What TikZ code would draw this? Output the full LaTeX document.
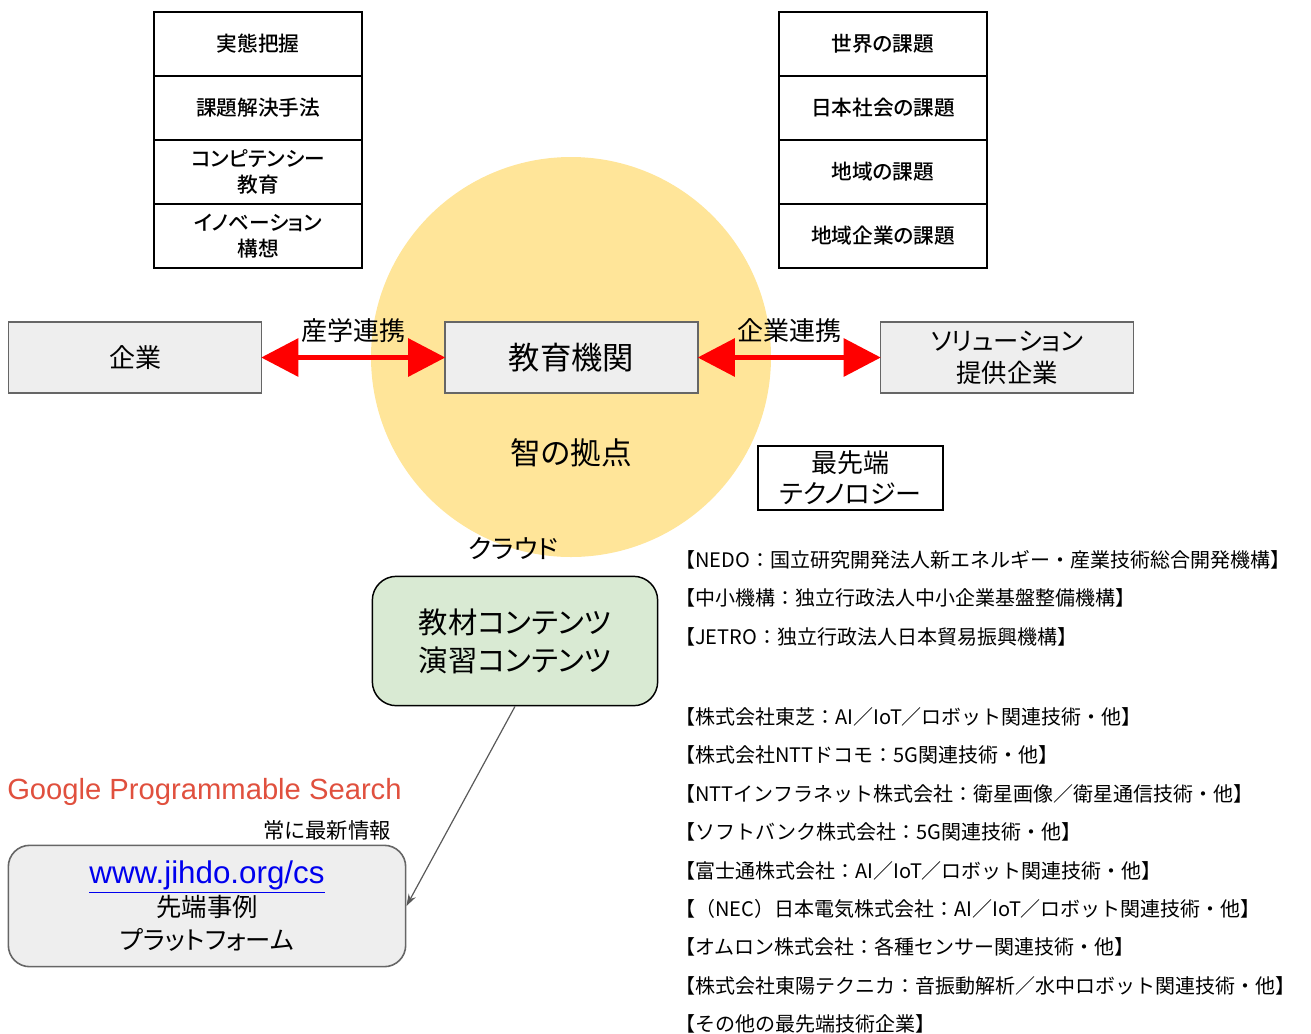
\documentclass[tikz,border=0pt]{standalone}
\usepackage{fontspec}
\setmainfont{Noto Sans CJK JP}[RawFeature=+palt]
\newfontfamily\jpfull{Noto Sans CJK JP}
\newfontfamily\jpmedium{Noto Sans CJK JP Medium}[RawFeature=+palt]
\newfontfamily\arialfont{Liberation Sans}
\usetikzlibrary{arrows.meta}
\definecolor{circleyellow}{HTML}{FFE599}
\definecolor{boxgray}{HTML}{EEEEEE}
\definecolor{boxgreen}{HTML}{D9EAD3}
\definecolor{googlered}{HTML}{E0503E}
\definecolor{linkblue}{HTML}{0000EE}
\tikzset{
	stackbox/.style={draw, line width=1.1pt, minimum width=156pt, minimum height=48pt, inner sep=0pt, align=center, font=\jpmedium\fontsize{15.5}{20}\selectfont},
	graybox/.style={draw=black!60, line width=1.2pt, fill=boxgray, minimum width=190pt, minimum height=53pt, inner sep=0pt, align=center},
	redarrow/.style={red, line width=4.2pt, {Triangle[length=28pt, width=28pt]}-{Triangle[length=28pt, width=28pt]}, shorten <=-1pt, shorten >=-1pt},
	listtext/.style={anchor=west, inner sep=0pt, font=\jpfull\fontsize{15}{16}\selectfont},
}
\begin{document}
\begin{tikzpicture}[x=0.75pt, y=-0.75pt]
	\useasboundingbox (0,0) rectangle (1311,1033);
	\fill[circleyellow] (571,357) circle[radius=150pt];

	% upper stacks
	\node[stackbox] (haaku) at (258,44) {実態把握};
	\node[stackbox] (shuho) at (258,108) {課題解決手法};
	\node[stackbox] (competency) at (258,172) {コンピテンシー\\教育};
	\node[stackbox] (innovation) at (258,236) {イノベーション\\構想};

	\node[stackbox] (sekai) at (883,44) {世界の課題};
	\node[stackbox] (nihon) at (883,108) {日本社会の課題};
	\node[stackbox] (chiiki) at (883,172) {地域の課題};
	\node[stackbox] (chiikikigyo) at (883,236) {地域企業の課題};

	% middle row
	\node[graybox, font=\fontsize{19.5}{24}\selectfont] (kigyo) at (135,357.5) {企業};
	\node[graybox, font=\fontsize{23.5}{28}\selectfont] (kyoiku) at (571.5,357.5) {教育機関};
	\node[graybox, font=\fontsize{19}{24}\selectfont] (solution) at (1007,357.5) {ソリューション\\提供企業};

	\draw[redarrow] (kigyo.east) -- (kyoiku.west) node[midway, above=6pt, black, font=\fontsize{19.5}{22}\selectfont]{産学連携};
	\draw[redarrow] (kyoiku.east) -- (solution.west) node[midway, above=6pt, black, font=\fontsize{19.5}{22}\selectfont]{企業連携};

	\node[font=\fontsize{23}{26}\selectfont] (chi) at (571,453) {智の拠点};
	\node[draw, line width=1.1pt, minimum width=139pt, minimum height=48pt, inner sep=0pt, align=center, font=\fontsize{19.5}{23}\selectfont] (saisentan) at (850.5,478) {最先端\\テクノロジー};

	% cloud
	\node[font=\fontsize{19.5}{20}\selectfont] (cloud) at (513,549) {クラウド};
	\node[draw, line width=1.1pt, fill=boxgreen, rounded corners=18pt, minimum width=214pt, minimum height=97pt, inner sep=0pt, align=center, font=\fontsize{22}{28.5}\selectfont] (kyozai) at (515,641) {教材コンテンツ\\演習コンテンツ};

	\node[anchor=west, inner sep=0pt, text=googlered, font=\arialfont\fontsize{21.9}{24}\selectfont] (google) at (7,792) {Google Programmable Search};
	\node[anchor=east, inner sep=0pt, font=\fontsize{16}{18}\selectfont] (saishin) at (391,830) {常に最新情報};
	\node[draw=black!60, line width=1.2pt, fill=boxgray, rounded corners=16pt, minimum width=298pt, minimum height=91pt, inner sep=0pt, align=center, font=\fontsize{19}{24.5}\selectfont] (platform) at (207,906) {{\arialfont\fontsize{23.5}{24.5}\selectfont\color{linkblue}\underline{www.jihdo.org/cs}}\\先端事例\\プラットフォーム};

	\draw[black!65, line width=0.9pt, -{Stealth[length=9pt, width=6pt]}] (kyozai.south) -- (platform.east);

	% list of organisations
	\node[listtext] (nedo) at (675,560) {【NEDO：国立研究開発法人新エネルギー・産業技術総合開発機構】};
	\node[listtext] (chusho) at (675,598) {【中小機構：独立行政法人中小企業基盤整備機構】};
	\node[listtext] (jetro) at (675,637) {【JETRO：独立行政法人日本貿易振興機構】};
	\node[listtext] (toshiba) at (675,717) {【株式会社東芝：AI／IoT／ロボット関連技術・他】};
	\node[listtext] (docomo) at (675,755) {【株式会社NTTドコモ：5G関連技術・他】};
	\node[listtext] (infranet) at (675,794) {【NTTインフラネット株式会社：衛星画像／衛星通信技術・他】};
	\node[listtext] (softbank) at (675,832) {【ソフトバンク株式会社：5G関連技術・他】};
	\node[listtext] (fujitsu) at (675,871) {【富士通株式会社：AI／IoT／ロボット関連技術・他】};
	\node[listtext] (nec) at (675,909) {【（NEC）日本電気株式会社：AI／IoT／ロボット関連技術・他】};
	\node[listtext] (omron) at (675,947) {【オムロン株式会社：各種センサー関連技術・他】};
	\node[listtext] (toyo) at (675,986) {【株式会社東陽テクニカ：音振動解析／水中ロボット関連技術・他】};
	\node[listtext] (sonota) at (675,1024) {【その他の最先端技術企業】};
\end{tikzpicture}
\end{document}
